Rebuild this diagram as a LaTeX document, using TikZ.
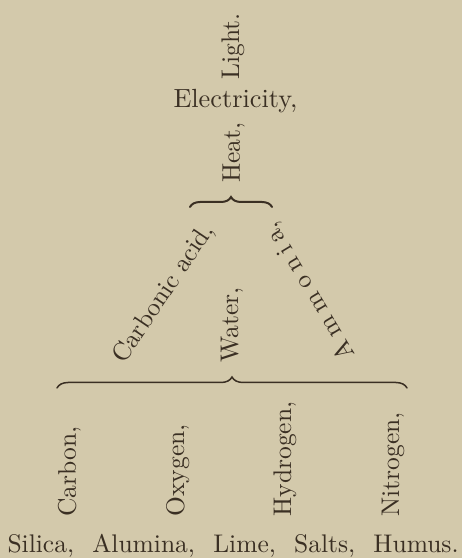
\documentclass[tikz,border=0pt]{standalone}
\usetikzlibrary{decorations.pathreplacing}
\definecolor{paper}{RGB}{211,201,171}
\definecolor{ink}{RGB}{58,47,35}
\tikzset{
  word/.style={inner sep=0pt, text=ink, font=\fontsize{10}{12}\selectfont, scale=2.55},
  up/.style={word, rotate=90, anchor=base west},
  bracestyle/.style={draw=ink, line width=1.7pt, line cap=round,
    decorate, decoration={brace, amplitude=#1}},
}
\begin{document}
\begin{tikzpicture}[x=1pt,y=1pt]
\fill[paper] (0,0) rectangle (462,558);
\useasboundingbox (0,0) rectangle (462,558);
% top group
\node[up] (light) at (239,478) {Light.};
\node[word, anchor=base west, scale=1.03] (elec) at (173,450) {Electricity,};
\node[up] (heat) at (240,375) {Heat,};
\coordinate (tb1) at (190,351);
\coordinate (tb2) at (272,351);
\draw[bracestyle=10pt, line width=2pt] (tb1) -- (tb2);
% middle group
\node[word, rotate=56, anchor=center] (carb) at (164,293-29) {Carbonic acid,};
\node[up] (water) at (238,195) {Water,};
\node[word, rotate=121, anchor=center] (ammo) at (310,267) {A\hspace{2.6pt}m\hspace{2.6pt}m\hspace{2.6pt}o\hspace{2.6pt}n\hspace{2.6pt}i\hspace{2.6pt}a,};
\coordinate (lb1) at (57,170);
\coordinate (lb2) at (407,170);
\draw[bracestyle=11pt, line width=1.5pt] (lb1) -- (lb2);
% elements
\node[up] (carbon) at (76,41) {Carbon,};
\node[up] (oxygen) at (184,41) {Oxygen,};
\node[up] (hydrogen) at (291,41) {Hydrogen,};
\node[up] (nitrogen) at (399,41) {Nitrogen,};
% bottom line
\node[word, anchor=base west] (soil) at (7,5) {\makebox[176.9pt][s]{Silica, Alumina, Lime, Salts, Humus.}};
\end{tikzpicture}
\end{document}
